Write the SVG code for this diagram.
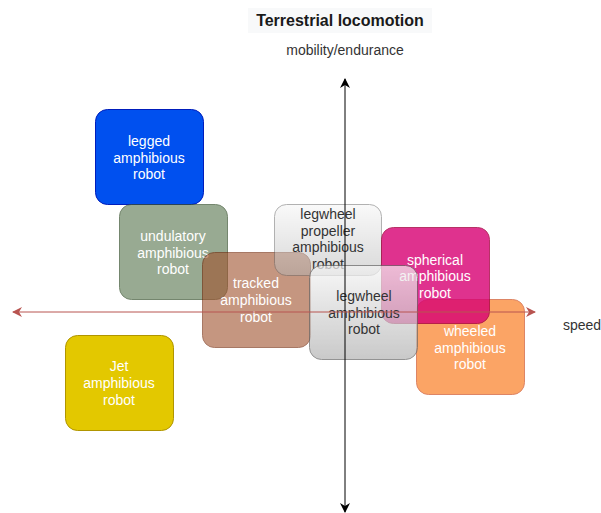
<svg xmlns="http://www.w3.org/2000/svg" width="601" height="513" viewBox="0 0 601 513">
<defs>
<linearGradient id="gray" x1="0" y1="0" x2="0" y2="1">
<stop offset="0" stop-color="#f5f5f5"/>
<stop offset="1" stop-color="#b3b3b3"/>
</linearGradient>
<marker id="ab" viewBox="0 0 10 10" refX="9" refY="5" markerWidth="10" markerHeight="10" markerUnits="userSpaceOnUse" orient="auto">
<path d="M0,0 L10,5 L0,10 L3,5 Z" fill="#000"/>
</marker>
<marker id="ar" viewBox="0 0 10 10" refX="9" refY="5" markerWidth="10" markerHeight="10" markerUnits="userSpaceOnUse" orient="auto">
<path d="M0,0 L10,5 L0,10 L3,5 Z" fill="#b85450"/>
</marker>
</defs>
<style>
.w{fill:#fff;font-family:"Liberation Sans",Arial,sans-serif;font-size:14px;text-anchor:middle}
.d{fill:#333;font-family:"Liberation Sans",Arial,sans-serif;font-size:14px;text-anchor:middle}
.lbl{fill:#333;font-family:"Liberation Sans",Arial,sans-serif;font-size:14px}
</style>
<rect width="601" height="513" fill="#fff"/>
<g id="title">
<rect x="248" y="8" width="184" height="25" fill="#f8f9fa"/>
<text x="340" y="26" font-family="Liberation Sans,Arial,sans-serif" font-size="16" font-weight="bold" text-anchor="middle" fill="#1a1a1a">Terrestrial locomotion</text>
</g>
<g id="label-mobility"><text class="lbl" x="345" y="55" text-anchor="middle">mobility/endurance</text></g>
<g id="label-speed"><text class="lbl" x="563" y="330">speed</text></g>

<g id="legged">
<rect x="95.5" y="109.5" width="108" height="95" rx="12" fill="#0050ef" stroke="#001dbc"/>
<text class="w" x="149" y="146">legged</text>
<text class="w" x="149" y="163">amphibious</text>
<text class="w" x="149" y="179">robot</text>
</g>
<g id="undulatory">
<rect x="119.5" y="204.5" width="108" height="95" rx="12" fill="#6d8764" stroke="#3a5431" opacity="0.7"/>
<text class="w" x="173" y="241">undulatory</text>
<text class="w" x="173" y="258">amphibious</text>
<text class="w" x="173" y="274">robot</text>
</g>
<g id="jet">
<rect x="65.5" y="335.5" width="108" height="95" rx="12" fill="#e3c800" stroke="#b09500"/>
<text class="w" x="119" y="371">Jet</text>
<text class="w" x="119" y="388">amphibious</text>
<text class="w" x="119" y="405">robot</text>
</g>
<g id="tracked">
<rect x="202.5" y="252.5" width="108" height="95" rx="12" fill="#a0522d" stroke="#6d1f00" opacity="0.6"/>
<text class="w" x="256" y="288">tracked</text>
<text class="w" x="256" y="305">amphibious</text>
<text class="w" x="256" y="322">robot</text>
</g>
<g id="legwheel-propeller">
<rect x="274.5" y="204.5" width="107" height="71" rx="12" fill="url(#gray)" stroke="#666" opacity="0.5"/>
<text class="d" x="328" y="219">legwheel</text>
<text class="d" x="328" y="236">propeller</text>
<text class="d" x="328" y="252">amphibious</text>
<text class="d" x="328" y="269">robot</text>
</g>
<g id="wheeled">
<rect x="416.5" y="299.5" width="108" height="95" rx="12" fill="#fa6800" stroke="#c73500" opacity="0.6"/>
<text class="w" x="470" y="336">wheeled</text>
<text class="w" x="470" y="353">amphibious</text>
<text class="w" x="470" y="369">robot</text>
</g>
<g id="spherical">
<rect x="381.5" y="227.5" width="108" height="96" rx="12" fill="#d80073" stroke="#a50040" opacity="0.8"/>
<text class="w" x="435" y="265">spherical</text>
<text class="w" x="435" y="281">amphibious</text>
<text class="w" x="435" y="298">robot</text>
</g>
<g id="legwheel">
<rect x="309.5" y="265.5" width="108" height="94" rx="12" fill="url(#gray)" stroke="#666" opacity="0.7"/>
<text class="d" x="364" y="301">legwheel</text>
<text class="d" x="364" y="318">amphibious</text>
<text class="d" x="364" y="334">robot</text>
</g>

<g id="connectors">
<line x1="345" y1="300" x2="345" y2="79" stroke="#000" marker-end="url(#ab)"/>
<line x1="345" y1="300" x2="345" y2="512" stroke="#000" marker-end="url(#ab)"/>
<line x1="300" y1="312" x2="535" y2="312" stroke="#b85450" marker-end="url(#ar)"/>
<line x1="300" y1="312" x2="13" y2="312" stroke="#b85450" marker-end="url(#ar)"/>
</g>
</svg>
